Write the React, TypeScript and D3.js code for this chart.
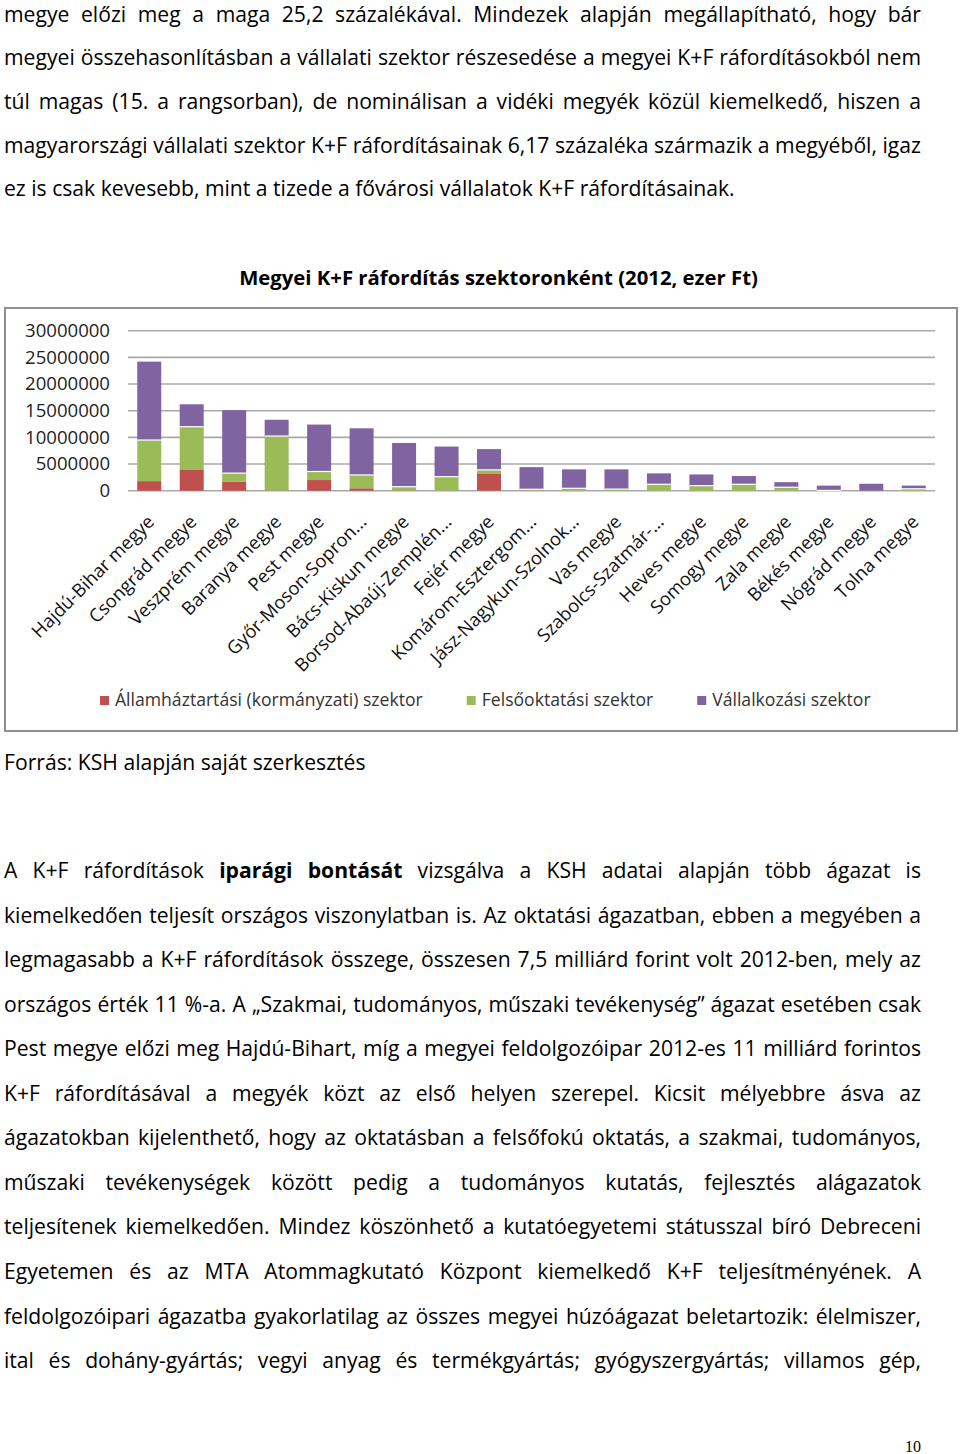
import React from "react";
import * as d3 from "d3";

// ---------- DATA ----------
const counties = [
  "Hajdú-Bihar megye",
  "Csongrád megye",
  "Veszprém megye",
  "Baranya megye",
  "Pest megye",
  "Győr-Moson-Sopron...",
  "Bács-Kiskun megye",
  "Borsod-Abaúj-Zemplén...",
  "Fejér megye",
  "Komárom-Esztergom...",
  "Jász-Nagykun-Szolnok...",
  "Vas megye",
  "Szabolcs-Szatmár-...",
  "Heves megye",
  "Somogy megye",
  "Zala megye",
  "Békés megye",
  "Nógrád megye",
  "Tolna megye",
];

// ezer Ft
const govSector = [1800000, 4000000, 1700000, 50000, 2000000, 450000, 50000, 30000, 3250000, 20000, 0, 0, 0, 0, 0, 0, 0, 0, 0];
const higherEdSector = [7700000, 8000000, 1600000, 10200000, 1600000, 2500000, 700000, 2600000, 650000, 250000, 450000, 300000, 1200000, 950000, 1200000, 650000, 50000, 0, 350000];
const businessSector = [14700000, 4200000, 11800000, 3050000, 8800000, 8750000, 8200000, 5650000, 3900000, 4150000, 3550000, 3700000, 2050000, 2100000, 1550000, 950000, 900000, 1300000, 600000];

const seriesNames = ["Államháztartási (kormányzati) szektor", "Felsőoktatási szektor", "Vállalkozási szektor"];
const seriesColors = ["#c0504d", "#9bbb59", "#8064a2"];
const yTicks = [0, 5000000, 10000000, 15000000, 20000000, 25000000, 30000000];

const chartTitle = "Megyei K+F ráfordítás szektoronként (2012, ezer Ft)";
const sourceNote = "Forrás: KSH alapján saját szerkesztés";

const para1 = [
  "megye előzi meg a maga 25,2 százalékával. Mindezek alapján megállapítható, hogy bár",
  "megyei összehasonlításban a vállalati szektor részesedése a megyei K+F ráfordításokból nem",
  "túl magas (15. a rangsorban), de nominálisan a vidéki megyék közül kiemelkedő, hiszen a",
  "magyarországi vállalati szektor K+F ráfordításainak 6,17 százaléka származik a megyéből, igaz",
  "ez is csak kevesebb, mint a tizede a fővárosi vállalatok K+F ráfordításainak.",
];

const para2 = [
  "A K+F ráfordítások *iparági *bontását vizsgálva a KSH adatai alapján több ágazat is",
  "kiemelkedően teljesít országos viszonylatban is. Az oktatási ágazatban, ebben a megyében a",
  "legmagasabb a K+F ráfordítások összege, összesen 7,5 milliárd forint volt 2012-ben, mely az",
  "országos érték 11 %-a. A „Szakmai, tudományos, műszaki tevékenység” ágazat esetében csak",
  "Pest megye előzi meg Hajdú-Bihart, míg a megyei feldolgozóipar 2012-es 11 milliárd forintos",
  "K+F ráfordításával a megyék közt az első helyen szerepel. Kicsit mélyebbre ásva az",
  "ágazatokban kijelenthető, hogy az oktatásban a felsőfokú oktatás, a szakmai, tudományos,",
  "műszaki tevékenységek között pedig a tudományos kutatás, fejlesztés alágazatok",
  "teljesítenek kiemelkedően. Mindez köszönhető a kutatóegyetemi státusszal bíró Debreceni",
  "Egyetemen és az MTA Atommagkutató Központ kiemelkedő K+F teljesítményének. A",
  "feldolgozóipari ágazatba gyakorlatilag az összes megyei húzóágazat beletartozik: élelmiszer,",
  "ital és dohány-gyártás; vegyi anyag és termékgyártás; gyógyszergyártás; villamos gép,",
];

const pageNumber = "10";

// ---------- LAYOUT ----------
const W = 960;
const H = 1454;
const FAMILY = "'Open Sans'";
const FONT = "'Open Sans', Lato, sans-serif";
const TEXT_X0 = 4;
const TEXT_X1 = 921;

let _ctx: CanvasRenderingContext2D | null = null;
function measure(text: string, size: number, bold = false): number {
  if (!_ctx) _ctx = document.createElement("canvas").getContext("2d");
  _ctx!.font = `${bold ? "bold " : ""}${size}px ${FAMILY}`;
  return _ctx!.measureText(text).width;
}
// font size that makes `text` span `target` px
function fitSize(text: string, target: number, bold = false): number {
  return (20 * target) / measure(text, 20, bold);
}

function lineWords(line: string) {
  return line.split(" ").map((w) => (w.startsWith("*") ? { t: w.slice(1), b: true } : { t: w, b: false }));
}

function JustifiedLine({ line, y, justify, size }: { line: string; y: number; justify: boolean; size: number }) {
  const words = lineWords(line);
  const widths = words.map((w) => measure(w.t, size, w.b));
  const total = d3.sum(widths);
  const gap = justify && words.length > 1 ? (TEXT_X1 - TEXT_X0 - total) / (words.length - 1) : measure(" ", size);
  let x = TEXT_X0;
  return (
    <g>
      {words.map((w, i) => {
        const el = (
          <text key={i} x={x} y={y} fontWeight={w.b ? "bold" : "normal"}>
            {w.t}
          </text>
        );
        x += widths[i] + gap;
        return el;
      })}
    </g>
  );
}

export default function App() {
  const bodySize = fitSize(para1[para1.length - 1], 731);
  const titleSize = fitSize(chartTitle, 519, true);
  const tickSize = fitSize("30000000", 85);
  const labelSize = fitSize("Hajdú-Bihar megye", 164);
  const legendSize = fitSize(seriesNames[0], 308);

  // chart geometry
  const plotL = 128;
  const plotR = 935;
  const plotTop = 330.7;
  const plotBottom = 490.7;

  const xScale = d3.scaleBand<string>().domain(counties).range([plotL, plotR]).paddingInner(0.435).paddingOuter(0.2175);
  const yScale = d3.scaleLinear().domain([0, 30000000]).range([plotBottom, plotTop]);

  const rows = counties.map((c, i) => ({ county: c, s0: govSector[i], s1: higherEdSector[i], s2: businessSector[i] }));
  const stacked = d3.stack<any>().keys(["s0", "s1", "s2"])(rows);

  // legend layout
  const legendY = 706;
  let lx = 100;
  const legendItems = seriesNames.map((name, i) => {
    const item = { name, color: seriesColors[i], x: lx };
    lx += 9 + 6 + measure(name, legendSize) + 44;
    return item;
  });

  const p1Base = 21.5;
  const p1Step = 43.7;
  const p2Base = 878;
  const p2Step = 44.55;

  return (
    <svg
      width={W}
      height={H}
      viewBox={`0 0 ${W} ${H}`}
      style={{ position: "absolute", left: 0, top: 0, background: "#fff" }}
      fontFamily={FONT}
    >
      <rect x={0} y={0} width={W} height={H} fill="#fff" />

      {/* paragraph 1 */}
      <g fontSize={bodySize} fill="#000">
        {para1.map((l, i) => (
          <JustifiedLine key={"p1" + i} line={l} y={p1Base + i * p1Step} justify={i < para1.length - 1} size={bodySize} />
        ))}
      </g>

      {/* chart title */}
      <text x={498.5} y={285} textAnchor="middle" fontWeight="bold" fontSize={titleSize} fill="#000">
        {chartTitle}
      </text>

      {/* chart frame */}
      <rect x={5} y={308} width={952} height={423} fill="#fff" stroke="#8e8e8e" strokeWidth={2} />

      {/* gridlines */}
      {yTicks.map((t) => (
        <line key={t} x1={plotL} x2={plotR} y1={yScale(t)} y2={yScale(t)} stroke="#a9a9a9" strokeWidth={1.6} />
      ))}
      {/* y tick labels */}
      <g fontSize={tickSize} fill="#222" textAnchor="end">
        {yTicks.map((t) => (
          <text key={t} x={110} y={yScale(t) + 6.3}>
            {String(t)}
          </text>
        ))}
      </g>

      {/* bars */}
      {stacked.map((layer, li) => (
        <g key={li} fill={seriesColors[li]}>
          {layer.map((d, i) => {
            const h = yScale(d[0]) - yScale(d[1]);
            if (h <= 0) return null;
            return <rect key={i} x={xScale(counties[i])!} y={yScale(d[1])} width={xScale.bandwidth()} height={h} />;
          })}
        </g>
      ))}
      {/* white separator under business segment */}
      {stacked[2].map((d, i) =>
        d[0] > 0 ? (
          <line
            key={i}
            x1={xScale(counties[i])!}
            x2={xScale(counties[i])! + xScale.bandwidth()}
            y1={yScale(d[0])}
            y2={yScale(d[0])}
            stroke="#fff"
            strokeWidth={1.2}
          />
        ) : null
      )}

      {/* x labels */}
      <g fontSize={labelSize} fill="#111" textAnchor="end">
        {counties.map((c) => {
          const cx = xScale(c)! + xScale.bandwidth() / 2;
          return (
            <text key={c} transform={`translate(${cx + 6},${523}) rotate(-45)`}>
              {c}
            </text>
          );
        })}
      </g>

      {/* legend */}
      <g fontSize={legendSize} fill="#333">
        {legendItems.map((it) => (
          <g key={it.name}>
            <rect x={it.x} y={legendY - 10} width={9} height={9} fill={it.color} />
            <text x={it.x + 15} y={legendY}>
              {it.name}
            </text>
          </g>
        ))}
      </g>

      {/* source */}
      <text x={TEXT_X0} y={770} fontSize={bodySize} fill="#000">
        {sourceNote}
      </text>

      {/* paragraph 2 */}
      <g fontSize={bodySize} fill="#000">
        {para2.map((l, i) => (
          <JustifiedLine key={"p2" + i} line={l} y={p2Base + i * p2Step} justify={true} size={bodySize} />
        ))}
      </g>

      {/* page number */}
      <text x={913} y={1452} textAnchor="middle" fontFamily="'Liberation Serif', 'DejaVu Serif', serif" fontSize={16} fill="#000">
        {pageNumber}
      </text>
    </svg>
  );
}
